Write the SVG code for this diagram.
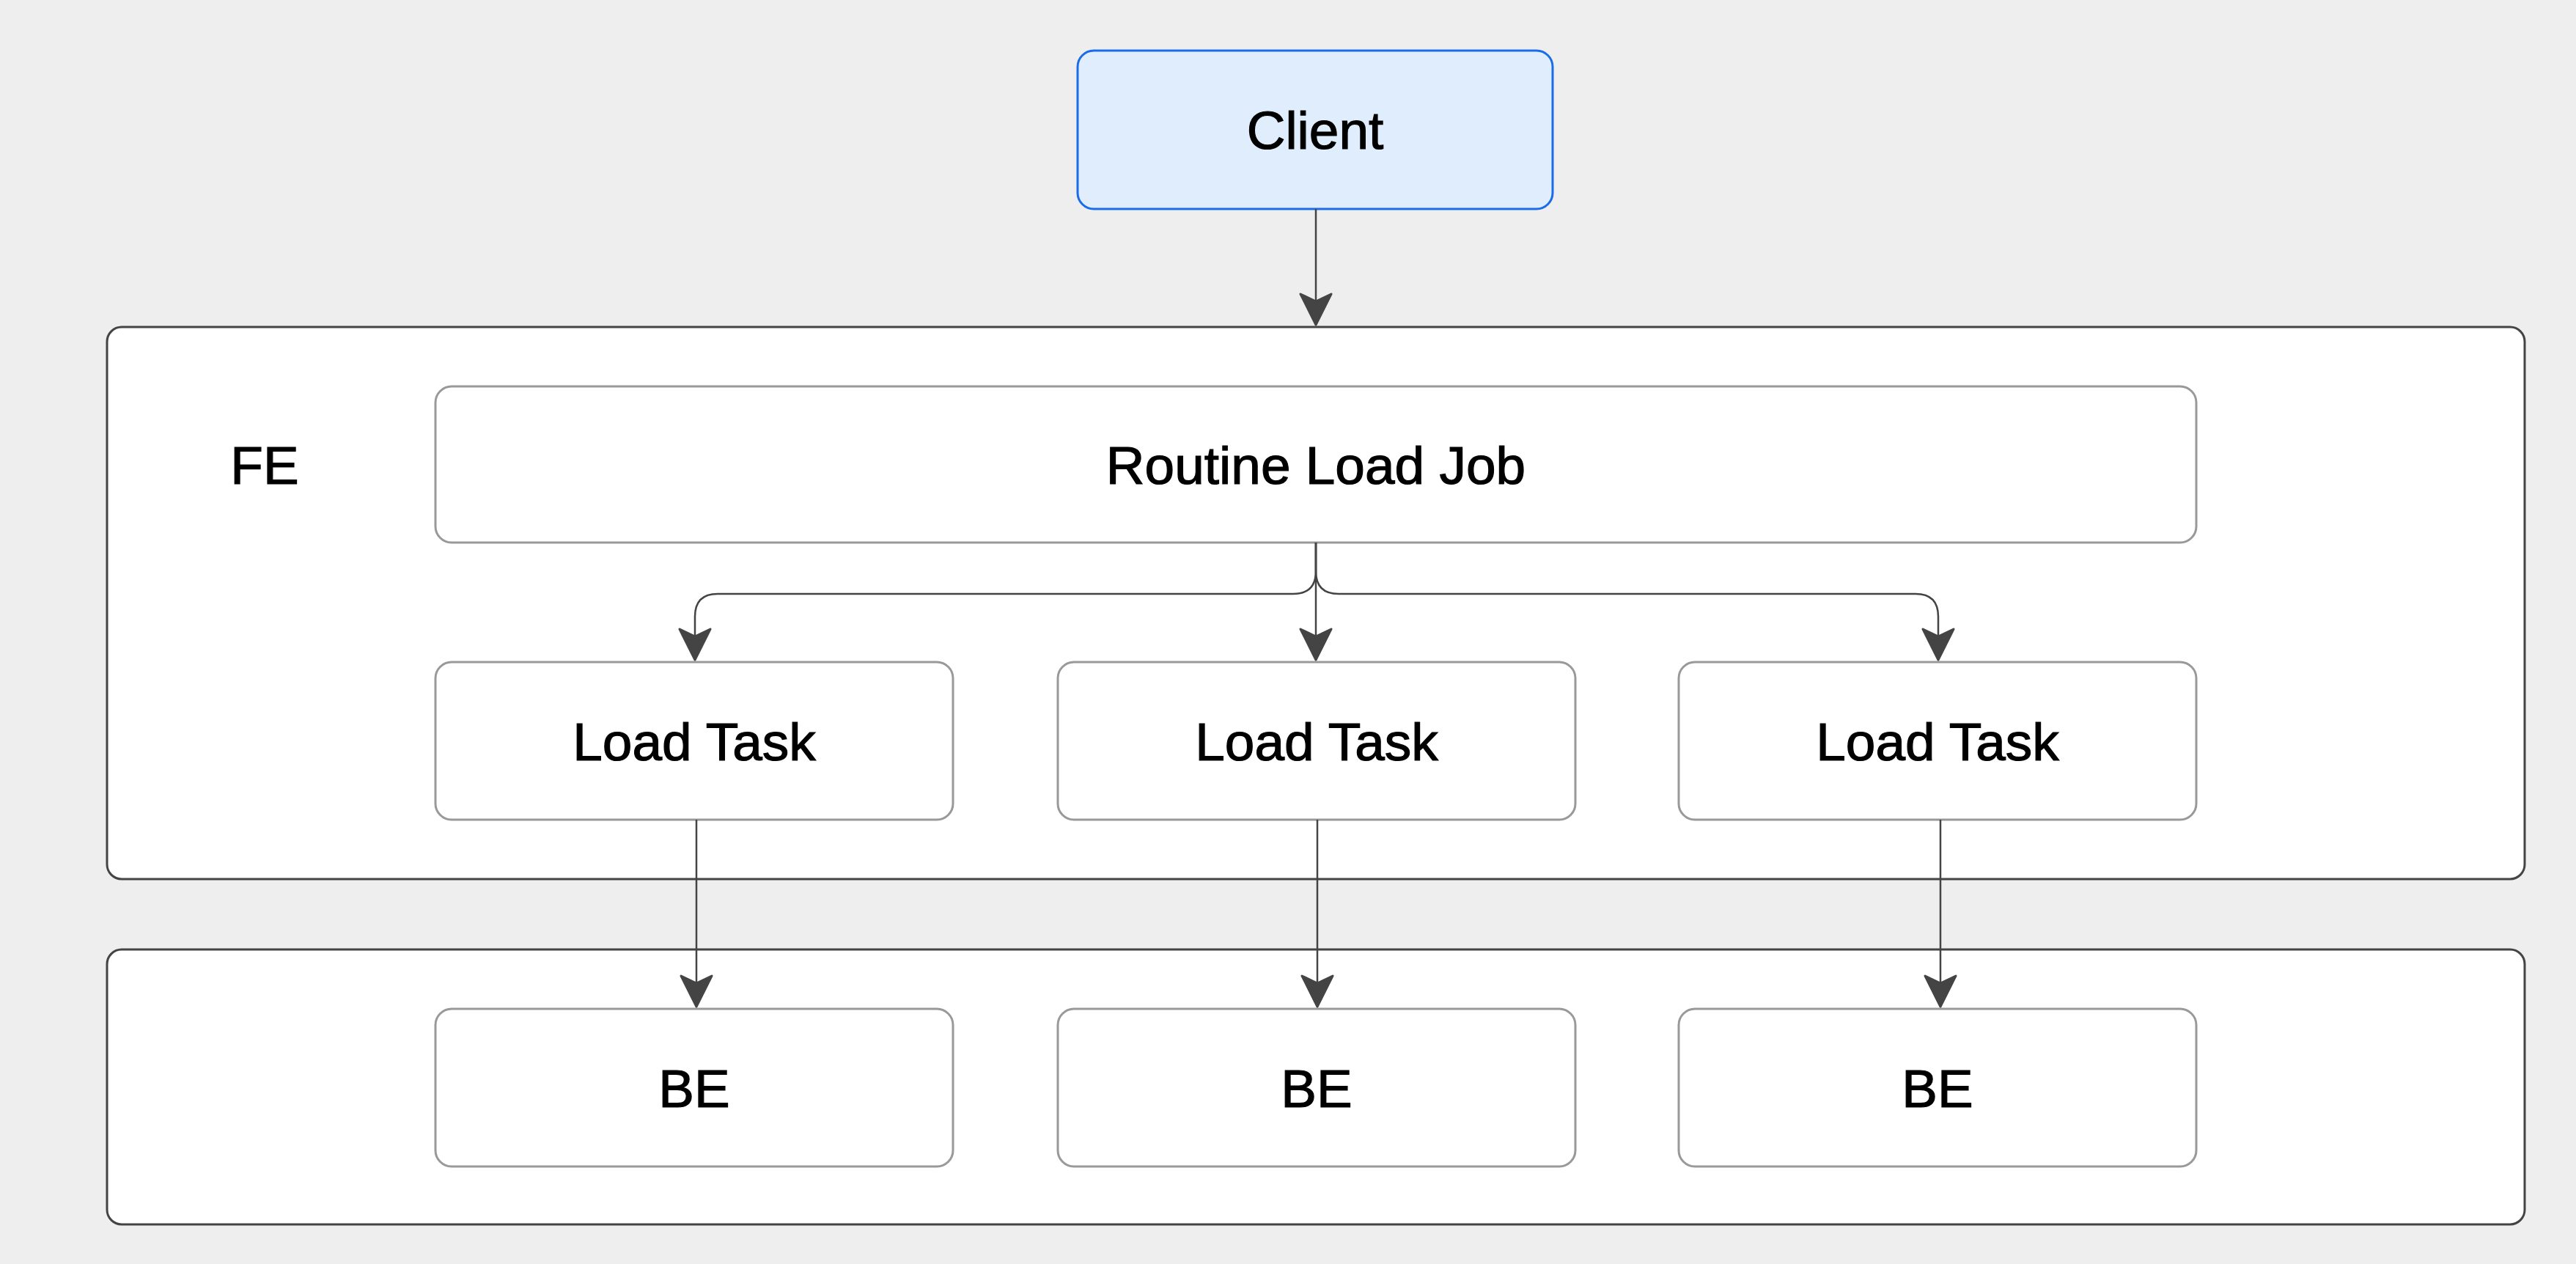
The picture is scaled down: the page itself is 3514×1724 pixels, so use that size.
<svg xmlns="http://www.w3.org/2000/svg" width="3514" height="1724" viewBox="0 0 3514 1724">
<style>
.bg{fill:#eeeeee}
.outer{fill:#ffffff;stroke:#444444;stroke-width:3}
.inner{fill:#ffffff;stroke:#999999;stroke-width:3}
.client{fill:#dfedfd;stroke:#1a6ce8;stroke-width:3}
.lbl{font-family:"Liberation Sans",Arial,sans-serif;font-size:73px;fill:#000000;stroke:#000000;stroke-width:1.2;text-anchor:middle}
.edge{fill:none;stroke:#444444;stroke-width:2.5}
</style>
<defs>
<marker id="arr" markerUnits="userSpaceOnUse" markerWidth="48" markerHeight="48" refX="43" refY="22" orient="auto" viewBox="-2 0 48 44">
<path d="M1,1 L43,22 L1,43 L11,22 Z" fill="#444444" stroke="#444444" stroke-width="3" stroke-linejoin="round"/>
</marker>
</defs>
<rect class="bg" x="0" y="0" width="3514" height="1724"/>
<g id="fe-container">
<rect class="outer" x="146" y="446" width="3298" height="753" rx="20" ry="20"/>
<text class="lbl" x="361" y="660">FE</text>
</g>
<g id="be-container">
<rect class="outer" x="146" y="1295" width="3298" height="375" rx="20" ry="20"/>
</g>
<g id="client">
<rect class="client" x="1470" y="69" width="648" height="216" rx="22" ry="22"/>
<text class="lbl" x="1794" y="203">Client</text>
</g>
<g id="routine-load-job">
<rect class="inner" x="594" y="527" width="2402" height="213" rx="22" ry="22"/>
<text class="lbl" x="1795" y="660">Routine Load Job</text>
</g>
<g id="load-task-1">
<rect class="inner" x="594" y="903" width="706" height="215" rx="22" ry="22"/>
<text class="lbl" x="947" y="1037">Load Task</text>
</g>
<g id="load-task-2">
<rect class="inner" x="1443" y="903" width="706" height="215" rx="22" ry="22"/>
<text class="lbl" x="1796" y="1037">Load Task</text>
</g>
<g id="load-task-3">
<rect class="inner" x="2290" y="903" width="706" height="215" rx="22" ry="22"/>
<text class="lbl" x="2643" y="1037">Load Task</text>
</g>
<g id="be-1">
<rect class="inner" x="594" y="1376" width="706" height="215" rx="22" ry="22"/>
<text class="lbl" x="947" y="1510">BE</text>
</g>
<g id="be-2">
<rect class="inner" x="1443" y="1376" width="706" height="215" rx="22" ry="22"/>
<text class="lbl" x="1796" y="1510">BE</text>
</g>
<g id="be-3">
<rect class="inner" x="2290" y="1376" width="706" height="215" rx="22" ry="22"/>
<text class="lbl" x="2643" y="1510">BE</text>
</g>
<g id="connectors">
<path class="edge" d="M1795,285 L1795,443" marker-end="url(#arr)"/>
<path class="edge" d="M1795,740 L1795,779 Q1795,810 1764,810 L979,810 Q948,810 948,841 L948,900" marker-end="url(#arr)"/>
<path class="edge" d="M1795,740 L1795,900" marker-end="url(#arr)"/>
<path class="edge" d="M1795,740 L1795,779 Q1795,810 1826,810 L2613,810 Q2644,810 2644,841 L2644,900" marker-end="url(#arr)"/>
<path class="edge" d="M950,1118 L950,1373" marker-end="url(#arr)"/>
<path class="edge" d="M1797,1118 L1797,1373" marker-end="url(#arr)"/>
<path class="edge" d="M2647,1118 L2647,1373" marker-end="url(#arr)"/>
</g>
</svg>
